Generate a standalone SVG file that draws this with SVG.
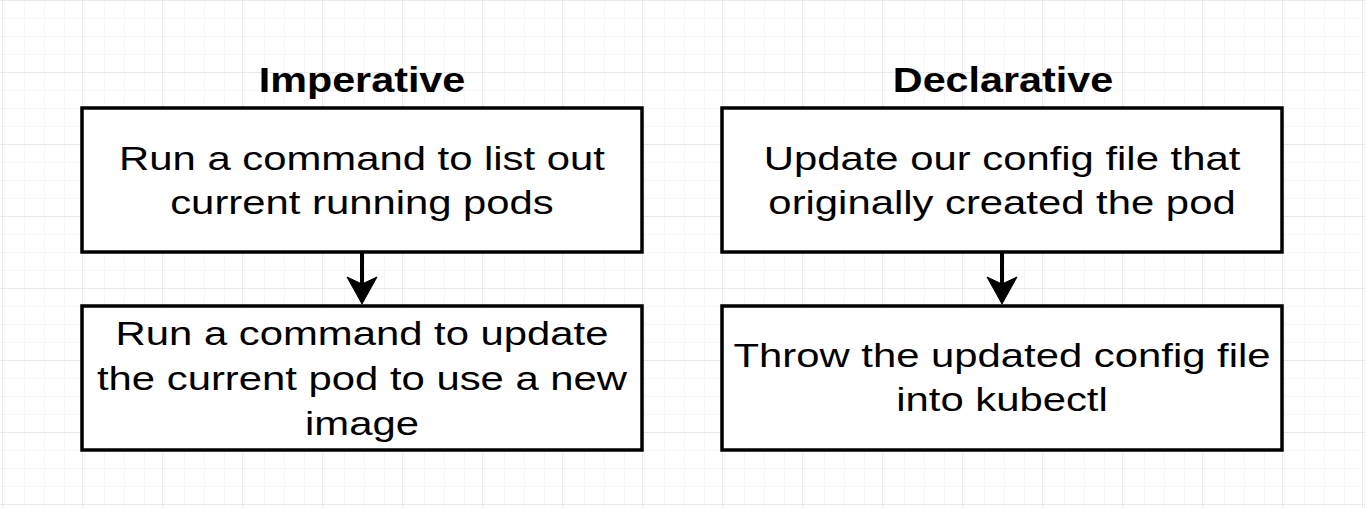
<svg xmlns="http://www.w3.org/2000/svg" width="1365" height="508" viewBox="0 0 1365 508">
  <style>
    .box { fill: #ffffff; stroke: #000000; stroke-width: 3.5; }
    .label { font-family: "Liberation Sans", Arial, Helvetica, sans-serif; font-size: 34px; fill: #000000; text-anchor: middle; }
    .title { font-family: "Liberation Sans", Arial, Helvetica, sans-serif; font-size: 35px; font-weight: bold; fill: #000000; text-anchor: middle; }
    .edge { stroke: #000000; stroke-width: 4; fill: none; }
    .head { fill: #000000; stroke: #000000; stroke-width: 1; stroke-linejoin: miter; }
  </style>
  <defs>
    <pattern id="minorGrid" x="2" y="0" width="20" height="18" patternUnits="userSpaceOnUse">
      <path d="M0,0 V18 M0,0 H20" stroke="#efefef" stroke-width="1" fill="none"/>
    </pattern>
    <pattern id="majorGrid" x="2" y="0" width="80" height="72" patternUnits="userSpaceOnUse">
      <rect width="80" height="72" fill="url(#minorGrid)"/>
      <path d="M0,0 V72 M0,0 H80" stroke="#e4e4e4" stroke-width="1.5" fill="none"/>
    </pattern>
  </defs>

  <!-- canvas grid -->
  <rect width="1365" height="508" fill="#ffffff"/>
  <rect width="1365" height="508" fill="url(#majorGrid)"/>

  <!-- column headings -->
  <g id="title-imperative">
    <text class="title" transform="translate(362,92) scale(1.18,1)">Imperative</text>
  </g>
  <g id="title-declarative">
    <text class="title" transform="translate(1003,92) scale(1.18,1)">Declarative</text>
  </g>

  <!-- imperative steps -->
  <g id="imp-list">
    <rect class="box" x="82" y="108" width="560" height="144"/>
    <text class="label" transform="translate(362,170) scale(1.23,1)">Run a command to list out</text>
    <text class="label" transform="translate(362,214) scale(1.23,1)">current running pods</text>
  </g>
  <g id="imp-update">
    <rect class="box" x="82" y="306" width="560" height="144"/>
    <text class="label" transform="translate(362,345) scale(1.23,1)">Run a command to update</text>
    <text class="label" transform="translate(362,390) scale(1.23,1)">the current pod to use a new</text>
    <text class="label" transform="translate(362,435) scale(1.23,1)">image</text>
  </g>

  <!-- declarative steps -->
  <g id="dec-edit">
    <rect class="box" x="722" y="108" width="560" height="144"/>
    <text class="label" transform="translate(1002,170) scale(1.23,1)">Update our config file that</text>
    <text class="label" transform="translate(1002,214) scale(1.23,1)">originally created the pod</text>
  </g>
  <g id="dec-apply">
    <rect class="box" x="722" y="306" width="560" height="144"/>
    <text class="label" transform="translate(1002,367) scale(1.23,1)">Throw the updated config file</text>
    <text class="label" transform="translate(1002,411) scale(1.23,1)">into kubectl</text>
  </g>

  <!-- connectors -->
  <g id="connectors">
    <line class="edge" x1="362" y1="252" x2="362" y2="284"/>
    <path class="head" d="M347,277 L362,304 L377,277 L362,284 Z"/>
    <line class="edge" x1="1002" y1="252" x2="1002" y2="284"/>
    <path class="head" d="M987,277 L1002,304 L1017,277 L1002,284 Z"/>
  </g>
</svg>
